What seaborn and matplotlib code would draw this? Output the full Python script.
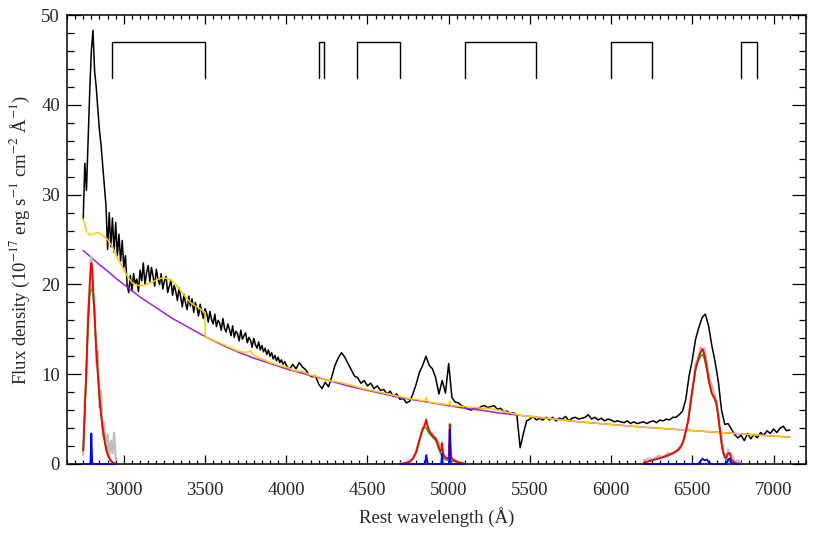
#!/usr/bin/env python3
import numpy as np
import matplotlib
matplotlib.use("Agg")
import matplotlib.pyplot as plt
import seaborn as sns
from matplotlib.ticker import MultipleLocator

obs_wave_uv = np.arange(2750, 4000, 10)
obs_flux_uv = [
    27.3, 33.5, 30.5, 36.0, 41.5, 46.0, 48.3, 43.8, 42.0, 39.5,
    37.2, 35.5, 33.2, 31.0, 28.8, 23.9, 28.0, 24.2, 27.4, 23.6,
    26.9, 23.2, 25.6, 22.6, 24.9, 21.9, 23.2, 20.0, 19.1, 21.0,
    19.3, 21.2, 20.1, 20.6, 19.2, 21.6, 20.4, 22.4, 20.0, 21.3,
    22.1, 20.3, 21.9, 20.9, 19.8, 21.7, 20.6, 20.0, 21.2, 19.5,
    20.4, 20.9, 19.1, 19.8, 20.5, 18.8, 19.9, 19.2, 18.2, 19.6,
    18.6, 17.5, 18.9, 17.9, 17.2, 18.7, 17.6, 18.4, 16.9, 18.0,
    17.4, 16.5, 17.8, 16.9, 16.2, 17.3, 16.8, 15.8, 17.0, 16.1,
    15.6, 16.7, 15.3, 16.0, 15.7, 14.9, 16.2, 15.1, 14.7, 15.6,
    15.0, 14.3, 15.4, 14.1, 14.8, 14.5, 13.7, 14.9, 13.9, 14.3,
    14.6, 13.5, 14.1, 13.8, 13.0, 14.0, 13.3, 12.9, 13.6, 12.7,
    13.2, 12.5, 12.9, 12.2, 12.7, 12.0, 12.4, 11.7, 12.1, 11.5,
    11.9, 11.3, 11.6, 11.1, 11.4,
]
obs_wave_opt = np.arange(4000, 7101, 20)
obs_flux_opt = [
    11.0, 10.5, 11.1, 10.6, 11.3, 10.8, 10.5, 9.9, 9.7, 9.8,
    8.9, 8.4, 9.1, 8.6, 9.7, 11.0, 11.8, 12.4, 11.9, 11.2,
    10.5, 9.8, 9.6, 9.0, 9.3, 8.7, 9.0, 8.4, 8.7, 8.2,
    8.3, 7.8, 8.1, 7.5, 7.8, 7.2, 7.3, 6.8, 7.0, 7.8,
    8.9, 10.2, 11.0, 12.0, 11.0, 10.6, 9.6, 7.8, 9.3, 7.9,
    11.2, 7.4, 6.9, 6.8, 6.5, 6.3, 6.1, 6.0, 6.3, 6.1,
    6.4, 6.5, 6.3, 6.4, 6.5, 6.1, 6.2, 5.8, 5.9, 5.6,
    5.7, 5.4, 1.8, 3.4, 4.8, 5.0, 5.3, 4.9, 5.1, 4.9,
    5.2, 4.9, 5.2, 4.8, 5.1, 5.0, 5.3, 4.8, 5.1, 5.2,
    5.0, 5.1, 5.2, 5.5, 5.0, 5.2, 4.9, 5.1, 4.8, 5.0,
    4.9, 4.7, 4.8, 4.7, 4.6, 4.8, 4.5, 4.7, 4.5, 4.6,
    4.7, 4.5, 4.7, 4.8, 4.6, 4.9, 4.8, 5.0, 4.9, 5.2,
    5.2, 5.5, 5.9, 7.2, 9.8, 11.6, 13.9, 15.2, 16.3, 16.7,
    15.4, 13.2, 11.4, 9.2, 6.0, 4.4, 4.5, 3.9, 3.3, 2.9,
    3.2, 2.6, 3.4, 2.8, 3.3, 2.9, 3.5, 3.2, 3.7, 3.4,
    3.9, 3.5, 4.0, 4.2, 3.7, 3.8,
]

# power-law continuum (purple)
pl_wave = [2750, 2800, 2850, 2900, 2950, 3000, 3100, 3200, 3300, 3400,
           3500, 3600, 3700, 3800, 3900, 4000, 4100, 4200, 4300, 4400,
           4500, 4600, 4700, 4800, 4900, 5000, 5100, 5200, 5300, 5400,
           5500, 5600, 5700, 5800, 5900, 6000, 6200, 6400, 6600, 6800,
           7000, 7100]
pl_flux = [23.8, 23.0, 22.2, 21.5, 20.7, 20.0, 18.6, 17.4, 16.2, 15.2,
           14.2, 13.3, 12.5, 11.8, 11.2, 10.6, 10.1, 9.6, 9.1, 8.6,
           8.2, 7.8, 7.4, 7.1, 6.8, 6.5, 6.2, 6.0, 5.7, 5.5,
           5.3, 5.1, 4.9, 4.7, 4.55, 4.4, 4.1, 3.85, 3.6, 3.35,
           3.1, 3.0]

# total continuum: power law + Fe II + Balmer continuum (gold)
cont_wave = [2750, 2770, 2790, 2810, 2840, 2870, 2900, 2930, 2960, 2990,
             3020, 3050, 3080, 3110, 3140, 3170, 3200, 3230, 3260, 3290,
             3320, 3350, 3380, 3410, 3440, 3470, 3500, 3501, 3550, 3600,
             3650, 3700, 3750, 3780, 3800, 3850, 3900, 3950, 4000, 4050,
             4100, 4150, 4200, 4250, 4300, 4350, 4400, 4450, 4500, 4550,
             4600, 4650, 4700, 4750, 4800, 4850, 4862, 4875, 4950, 5000,
             5007, 5015, 5100, 5150, 5200, 5250, 5300, 5350, 5400, 5450,
             5500, 5600, 5800, 6000, 6200, 6400, 6600, 6800, 7000, 7100]
cont_flux = [27.3, 26.0, 25.5, 25.6, 25.8, 25.5, 25.0, 24.2, 23.0, 22.0,
             21.0, 20.2, 19.9, 19.9, 20.0, 20.2, 20.5, 20.7, 20.7, 20.5,
             20.0, 19.3, 18.6, 18.0, 17.6, 17.3, 16.9, 14.2, 13.8, 13.4,
             13.0, 12.6, 12.4, 12.6, 12.1, 11.7, 11.3, 11.0, 10.8, 10.4,
             10.3, 9.9, 9.7, 9.3, 9.2, 9.0, 8.8, 8.5, 8.3, 8.1,
             7.9, 7.7, 7.5, 7.3, 7.2, 7.0, 7.4, 6.9, 6.7, 6.6,
             7.0, 6.5, 6.4, 6.3, 6.2, 6.2, 6.0, 5.8, 5.6, 5.4,
             5.3, 5.1, 4.7, 4.4, 4.1, 3.85, 3.6, 3.35, 3.1, 3.0]

# Mg II window: residual, total fit, broad, narrow
mg_wave = [2750, 2760, 2770, 2780, 2790, 2795, 2800, 2805, 2810, 2820,
           2830, 2840, 2850, 2860, 2870, 2880, 2890, 2900, 2910, 2920,
           2930, 2940, 2950, 2955]
mg_resid = [1.0, 7.2, 9.8, 17.3, 19.4, 22.6, 23.1, 21.5, 18.2, 17.6,
            11.2, 12.6, 6.3, 8.2, 3.1, 4.6, 1.4, 3.3, 0.8, 2.6,
            1.2, 3.5, 0.5, 0.6]
mg_total = [1.5, 6.0, 11.0, 16.0, 20.0, 21.5, 22.4, 21.8, 20.0, 16.5,
            13.0, 10.0, 7.5, 5.5, 4.0, 2.8, 1.8, 1.1, 0.7, 0.4,
            0.2, 0.1, 0.0, 0.0]
mg_broad = [1.5, 6.0, 10.8, 15.6, 18.8, 19.2, 19.4, 19.5, 19.8, 16.2,
            12.8, 9.9, 7.4, 5.4, 3.9, 2.7, 1.7, 1.0, 0.6, 0.3,
            0.15, 0.05, 0.0, 0.0]
mg_narrow = [0, 0, 0, 0, 0, 0.2, 3.4, 0.2, 0, 0,
             0, 0, 0, 0, 0, 0, 0, 0, 0, 0,
             0, 0, 0, 0]

# H-beta + [O III] window
hb_wave = [4700, 4720, 4740, 4760, 4780, 4800, 4820, 4840, 4850, 4855,
           4862, 4870, 4880, 4890, 4900, 4910, 4920, 4930, 4940, 4950,
           4955, 4959, 4963, 4970, 4980, 4990, 5000, 5004, 5007, 5010,
           5015, 5025, 5040, 5060, 5080, 5100]
hb_resid = [0.1, 0.0, 0.2, 0.4, 0.5, 1.5, 2.5, 4.0, 4.4, 4.6,
            5.0, 4.3, 3.9, 3.3, 3.5, 2.9, 3.0, 2.6, 2.4, 1.9,
            1.8, 2.4, 1.6, 1.0, 0.9, 0.5, 0.8, 2.6, 4.5, 2.3,
            0.9, 0.4, 0.5, 0.1, 0.2, 0.0]
hb_total = [0, 0.05, 0.1, 0.25, 0.6, 1.3, 2.7, 3.9, 4.2, 4.5,
            4.9, 4.2, 3.7, 3.4, 3.2, 3.0, 2.8, 2.4, 1.8, 1.4,
            1.6, 2.3, 1.5, 0.9, 0.7, 0.6, 0.7, 2.5, 4.4, 2.5,
            0.8, 0.5, 0.35, 0.2, 0.1, 0.0]
hb_broad = [0, 0.05, 0.1, 0.25, 0.6, 1.3, 2.7, 3.8, 4.0, 4.1,
            4.0, 3.7, 3.4, 3.2, 3.0, 2.8, 2.6, 2.2, 1.6, 1.2,
            1.0, 0.9, 0.8, 0.6, 0.5, 0.45, 0.4, 0.4, 0.4, 0.4,
            0.35, 0.3, 0.25, 0.15, 0.08, 0]
hb_narrow = [0, 0, 0, 0, 0, 0, 0, 0, 0, 0.1,
             1.0, 0.1, 0, 0, 0, 0, 0, 0, 0, 0,
             0.1, 1.2, 0.1, 0, 0, 0, 0, 0.5, 3.8, 0.5,
             0, 0, 0, 0, 0, 0]

# H-alpha window
ha_wave = [6200, 6230, 6260, 6290, 6320, 6350, 6380, 6410, 6430, 6445,
           6460, 6475, 6490, 6505, 6520, 6535, 6550, 6563, 6575, 6590,
           6605, 6620, 6635, 6648, 6660, 6670, 6680, 6690, 6700, 6710,
           6720, 6731, 6740, 6760, 6780, 6800]
ha_resid = [0.4, 0.6, 0.5, 0.9, 0.8, 1.2, 1.1, 1.7, 2.1, 2.4,
            3.9, 4.7, 7.2, 8.6, 11.2, 11.6, 13.0, 12.7, 12.9, 11.2,
            9.5, 8.8, 7.9, 7.0, 5.5, 4.0, 3.2, 1.4, 1.1, 0.6,
            1.6, 1.0, 1.2, 0.3, 0.4, 0.1]
ha_total = [0.1, 0.3, 0.45, 0.6, 0.75, 0.95, 1.2, 1.5, 1.9, 2.6,
            3.6, 4.9, 6.9, 8.8, 10.6, 11.6, 12.4, 12.8, 12.1, 10.6,
            9.0, 7.9, 7.4, 6.8, 5.3, 3.8, 2.3, 1.3, 0.8, 0.7,
            1.2, 1.2, 0.5, 0.15, 0.05, 0.0]
ha_broad = [0.1, 0.3, 0.45, 0.6, 0.75, 0.95, 1.2, 1.5, 1.9, 2.6,
            3.6, 4.9, 6.9, 8.8, 10.5, 11.4, 12.0, 12.2, 11.7, 10.4,
            8.9, 7.8, 7.3, 6.7, 5.2, 3.7, 2.2, 1.2, 0.7, 0.5,
            0.35, 0.25, 0.2, 0.1, 0.05, 0.0]
ha_narrow = [0, 0, 0, 0, 0, 0, 0, 0, 0, 0,
             0, 0, 0, 0, 0, 0, 0.3, 0.6, 0.4, 0.5,
             0.1, 0, 0, 0, 0, 0, 0, 0, 0, 0,
             0.5, 0.6, 0.1, 0, 0, 0]

# continuum fitting windows marked at the top
win_lo = [2925, 4200, 4435, 5100, 6000, 6800]
win_hi = [3500, 4230, 4700, 5535, 6250, 6900]


def line(ax, x, y, color, lw=1.1, z=2, clip=True):
    sns.lineplot(x=list(x), y=list(y), ax=ax, color=color, lw=lw,
                 estimator=None, sort=False, legend=False, zorder=z,
                 clip_on=clip)


def main():
    sns.set_theme(style="ticks")
    plt.rcParams["font.family"] = ["Liberation Serif", "DejaVu Serif"]
    plt.rcParams["mathtext.fontset"] = "stix"

    fig = plt.figure(figsize=(8.3, 5.53), dpi=100)
    ax = fig.add_axes([0.0807, 0.161, 0.8904, 0.8115])

    line(ax, np.concatenate([obs_wave_uv, obs_wave_opt]),
         obs_flux_uv + obs_flux_opt, "black", lw=1.1)
    line(ax, pl_wave, pl_flux, "#a020f0")
    line(ax, cont_wave, cont_flux, "#ffcc00")

    windows = [
        (mg_wave, mg_resid, mg_broad, mg_total, mg_narrow),
        (hb_wave, hb_resid, hb_broad, hb_total, hb_narrow),
        (ha_wave, ha_resid, ha_broad, ha_total, ha_narrow),
    ]
    for w, resid, broad, total, narrow in windows:
        line(ax, w, resid, "#bebebe", lw=1.6, z=3, clip=False)
        line(ax, w, broad, "#00c000", z=3, clip=False)
        line(ax, w, total, "#ff0000", lw=1.3, z=3, clip=False)
        line(ax, w, narrow, "#0000ff", lw=1.3, z=3, clip=False)

    for lo, hi in zip(win_lo, win_hi):
        ax.plot([lo, lo, hi, hi], [43, 47, 47, 43], color="black", lw=1.0)

    ax.set_xlim(2650, 7200)
    ax.set_ylim(0, 50)
    ax.xaxis.set_major_locator(MultipleLocator(500))
    ax.xaxis.set_minor_locator(MultipleLocator(50))
    ax.yaxis.set_major_locator(MultipleLocator(10))
    ax.yaxis.set_minor_locator(MultipleLocator(2))
    ax.tick_params(which="both", direction="in", top=True, right=True,
                   width=0.9, color="black", labelsize=13.5)
    ax.tick_params(axis="x", which="major", length=6.5, pad=13)
    ax.tick_params(axis="x", which="minor", length=3)
    ax.tick_params(axis="y", which="major", length=10, pad=5)
    ax.tick_params(axis="y", which="minor", length=5)
    for s in ax.spines.values():
        s.set_linewidth(1.1)
        s.set_color("black")

    ax.set_xlabel("Rest wavelength (Å)", fontsize=13.5, labelpad=6)
    ax.set_ylabel("Flux density (10$^{-17}$ erg s$^{-1}$ cm$^{-2}$ Å$^{-1}$)",
                  fontsize=13.5, labelpad=7)

    fig.savefig("out.png", dpi=100)
    plt.close(fig)


if __name__ == "__main__":
    main()
